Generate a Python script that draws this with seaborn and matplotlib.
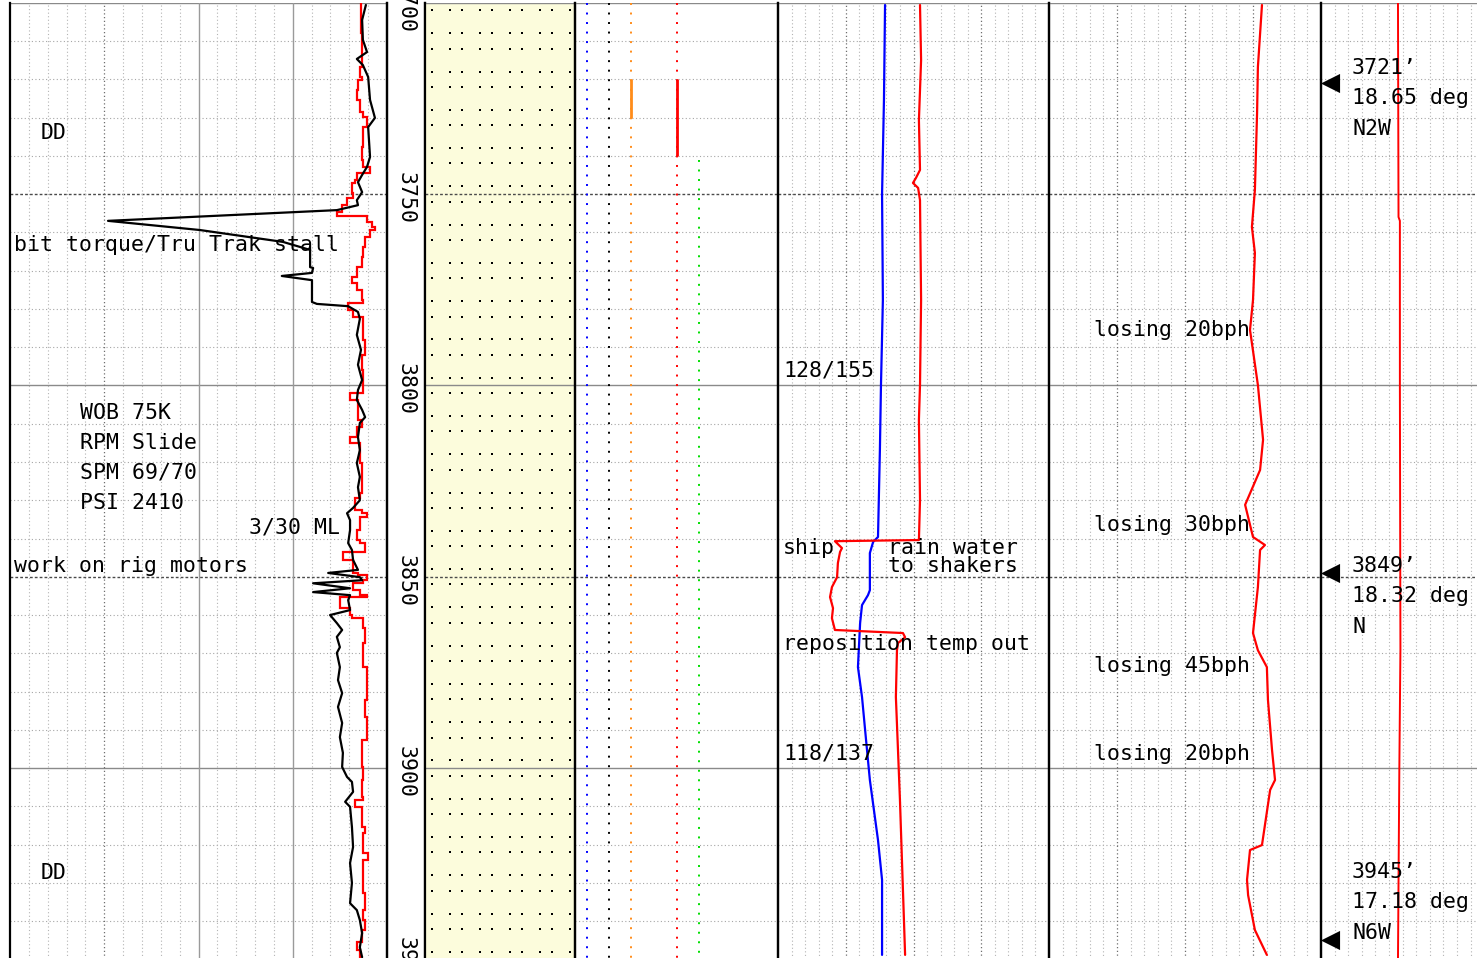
import numpy as np
import matplotlib
matplotlib.use("Agg")
import matplotlib.pyplot as plt
import seaborn as sns

sns.set_style("white")
plt.rcParams["font.family"] = ["DejaVu Sans Mono", "DejaVu Sans"]
plt.rcParams["text.color"] = "black"

# ---------------------------------------------------------------- data
TOP_DEPTH, BASE_DEPTH = 3700, 3950

# track 1: drill-rate curve (black) and step curve (red), scale 0-100
rop_depth = [3700.6, 3704.5, 3709.7, 3712.9, 3714.7, 3716.3, 3719.4, 3725.4, 3730.1, 3732.5,
             3740.3, 3742.9, 3745.0, 3746.9, 3749.5, 3751.6, 3752.9, 3754.2, 3757.0, 3759.4,
             3762.5, 3764.6, 3769.1, 3769.3, 3770.6, 3771.4, 3772.5, 3778.2, 3778.7, 3779.3,
             3780.8, 3782.6, 3786.8, 3790.7, 3794.6, 3798.6, 3801.2, 3803.8, 3806.4, 3808.3,
             3809.8, 3813.5, 3816.9, 3820.3, 3823.9, 3826.6, 3830.0, 3832.0, 3833.4, 3835.2,
             3837.8, 3841.2, 3843.0, 3845.6, 3848.2, 3849.0, 3850.1, 3850.9, 3851.7, 3853.0,
             3854.0, 3854.8, 3856.1, 3858.7, 3860.0, 3862.1, 3863.9, 3865.7, 3868.4, 3869.9,
             3873.6, 3877.0, 3880.4, 3884.0, 3888.2, 3891.9, 3896.0, 3899.7, 3902.3, 3903.6,
             3906.2, 3908.8, 3910.1, 3915.4, 3920.6, 3924.8, 3930.0, 3935.3, 3937.1, 3939.7,
             3943.1, 3946.8, 3949.4]
rop_value = [94.4, 93.4, 93.6, 94.7, 92.0, 93.6, 95.0, 95.5, 96.8, 95.0,
             95.5, 94.7, 93.4, 92.3, 93.4, 92.0, 92.3, 86.7, 26.0, 50.4,
             72.4, 79.6, 79.6, 80.4, 80.1, 72.1, 80.1, 80.1, 81.4, 89.7,
             92.3, 92.8, 92.0, 93.1, 92.3, 93.4, 92.3, 92.0, 93.4, 94.2,
             92.8, 92.3, 92.8, 92.0, 92.8, 92.3, 92.8, 91.0, 89.4, 90.2,
             90.2, 89.7, 90.7, 91.0, 92.3, 84.4, 92.8, 93.4, 80.4, 90.2,
             80.4, 90.2, 89.7, 90.2, 84.9, 86.7, 88.1, 86.7, 87.5, 86.7,
             87.5, 87.0, 88.1, 87.0, 88.1, 87.5, 88.3, 88.1, 89.4, 90.7,
             91.0, 88.9, 90.2, 90.7, 91.0, 90.2, 90.7, 90.2, 92.0, 92.8,
             93.4, 92.8, 93.4]

step_edges = [3700.0, 3707.9, 3716.8, 3719.4, 3720.2, 3722.8, 3725.4, 3728.6, 3729.9, 3732.5,
              3737.7, 3741.1, 3742.9, 3744.5, 3746.3, 3747.1, 3749.7, 3751.0, 3752.9, 3754.7,
              3755.7, 3757.3, 3758.6, 3759.4, 3761.2, 3763.8, 3766.4, 3769.1, 3771.7, 3773.2,
              3775.1, 3777.7, 3778.5, 3780.3, 3782.1, 3788.1, 3792.1, 3796.0, 3802.0, 3803.8,
              3809.0, 3810.9, 3813.5, 3815.0, 3820.3, 3828.1, 3829.4, 3832.6, 3833.3, 3834.4,
              3837.8, 3840.4, 3841.2, 3843.5, 3845.6, 3849.0, 3849.5, 3850.9, 3851.6, 3853.5,
              3854.8, 3855.3, 3858.2, 3860.0, 3860.8, 3863.4, 3867.3, 3873.6, 3882.2, 3886.6,
              3892.7, 3899.7, 3903.1, 3907.6, 3908.3, 3910.2, 3915.4, 3917.0, 3922.2, 3924.0,
              3932.6, 3937.1, 3939.7, 3942.3, 3945.4, 3947.5, 3950.0]
step_value = [93.1, 93.4, 92.8, 93.4, 92.3, 92.0, 92.8, 93.6, 94.7, 93.6,
              93.4, 93.6, 95.5, 92.0, 91.5, 90.7, 91.0, 89.4, 88.1, 86.7,
              94.7, 96.0, 96.8, 95.5, 94.2, 93.6, 93.4, 92.0, 90.7, 92.0,
              93.4, 93.6, 89.7, 91.0, 93.6, 94.2, 93.4, 93.6, 90.2, 92.3,
              93.4, 92.0, 90.2, 92.8, 93.4, 92.8, 91.5, 93.4, 94.7, 92.8,
              92.0, 92.8, 94.2, 88.3, 91.0, 92.3, 94.7, 93.6, 91.0, 92.8,
              94.7, 87.5, 90.2, 90.7, 93.6, 94.2, 93.6, 94.7, 94.2, 94.7,
              93.4, 93.6, 93.4, 93.6, 91.5, 93.4, 94.2, 93.6, 95.0, 93.6,
              94.2, 93.6, 94.2, 93.4, 92.0, 92.8]

# track 4: show columns
show_colors = ["#0000ff", "black", "#ff8c1a", "#ff0000", "#00dd00"]
show_pos = [5.9, 16.7, 27.6, 50.2, 61.1]
show_top = [3700, 3700, 3700, 3700, 3741]
show_solid_color = ["#ff8c1a", "#ff0000"]
show_solid_pos = [27.6, 50.2]
show_solid_top = [3720, 3720]
show_solid_base = [3730, 3740]

# track 5: gas curves, scale 0-100
gas_blue_depth = [3700.6, 3725.4, 3750.0, 3777.7, 3799.9, 3816.9, 3839.6, 3840.9, 3843.8, 3853.5,
                  3854.8, 3857.4, 3862.1, 3873.6, 3881.4, 3892.7, 3903.1, 3918.8, 3929.2, 3948.8]
gas_blue_value = [39.5, 39.1, 38.4, 38.7, 38.0, 37.6, 36.9, 35.1, 33.9, 33.9,
                  33.2, 31.0, 30.3, 29.5, 31.0, 32.5, 33.9, 36.9, 38.4, 38.4]
gas_red_depth = [3700.6, 3715.0, 3730.7, 3743.7, 3745.8, 3747.1, 3748.4, 3751.6, 3777.7, 3799.9,
                 3809.0, 3829.9, 3840.4, 3840.7, 3842.5, 3843.5, 3846.4, 3850.1, 3852.7, 3855.3,
                 3858.2, 3860.8, 3863.9, 3864.7, 3865.8, 3867.3, 3869.2, 3881.4, 3908.3, 3948.8]
gas_red_value = [52.4, 52.8, 52.0, 52.4, 50.9, 49.8, 51.7, 52.4, 52.8, 52.4,
                 52.0, 52.4, 52.0, 21.0, 23.6, 22.9, 22.1, 21.8, 19.9, 19.2,
                 20.3, 19.9, 21.0, 46.1, 46.9, 44.3, 43.9, 43.5, 45.0, 46.9]

# track 6: red curve, scale 0-100
t6_depth = [3700.6, 3716.8, 3728.8, 3748.9, 3758.6, 3765.4, 3777.7, 3785.5, 3799.9, 3814.2,
            3822.1, 3831.2, 3839.6, 3841.7, 3843.0, 3852.7, 3864.7, 3869.2, 3873.6, 3882.2,
            3895.3, 3903.1, 3905.7, 3920.1, 3921.4, 3929.2, 3933.2, 3942.3, 3948.8]
t6_value = [78.3, 76.8, 76.5, 75.7, 74.6, 75.7, 75.0, 73.9, 76.8, 78.7,
            77.6, 72.1, 75.0, 79.4, 77.6, 76.8, 75.0, 76.8, 80.1, 80.5,
            82.0, 83.1, 81.3, 78.3, 73.9, 72.8, 73.2, 75.7, 80.1]

# track 7: red curve and directional surveys
t7_depth = [3700.0, 3756.0, 3757.0, 3800.0, 3869.0, 3900.0, 3950.0]
t7_value = [28.3, 28.5, 29.0, 29.0, 29.2, 28.8, 28.3]
survey_depth = [3721, 3849, 3945]
survey_text_depth = [3717.1, 3847.2, 3927.2]
survey_incl = ["18.65 deg", "18.32 deg", "17.18 deg"]
survey_azim = ["N2W", "N", "N6W"]

# remarks: (track, x, depth, text)
remarks = [
    (1, 8.0, 3734.1, "DD"),
    (1, 1.1, 3763.3, "bit torque/Tru Trak stall"),
    (1, 18.6, 3807.2, "WOB 75K"),
    (1, 18.6, 3815.0, "RPM Slide"),
    (1, 18.6, 3822.8, "SPM 69/70"),
    (1, 18.6, 3830.7, "PSI 2410"),
    (1, 63.4, 3837.2, "3/30 ML"),
    (1, 1.1, 3847.2, "work on rig motors"),
    (1, 8.0, 3927.4, "DD"),
    (5, 1.8, 3796.2, "128/155"),
    (5, 1.8, 3842.5, "ship"),
    (5, 40.6, 3842.5, "rain water"),
    (5, 40.6, 3847.2, "to shakers"),
    (5, 1.8, 3867.6, "reposition temp out"),
    (5, 1.8, 3896.1, "118/137"),
    (6, 16.5, 3785.5, "losing 20bph"),
    (6, 16.5, 3836.5, "losing 30bph"),
    (6, 16.5, 3873.3, "losing 45bph"),
    (6, 16.5, 3896.3, "losing 20bph"),
]

# ---------------------------------------------------------------- layout
W, H = 1477, 958
Y_TOP, Y_BASE = 2.7, 959.5
FS = 15.5
fig = plt.figure(figsize=(W / 100, H / 100), dpi=100)


def make_track(x0, x1, left=True, right=True):
    ax = fig.add_axes([x0 / W, (H - Y_BASE) / H, (x1 - x0) / W, (Y_BASE - Y_TOP) / H])
    ax.patch.set_alpha(0)
    for name, sp in ax.spines.items():
        sp.set_visible((name == "left" and left) or (name == "right" and right))
        sp.set_color("black")
        sp.set_linewidth(1.6)
        sp.set_zorder(6)
    return ax


def finish(ax, xmax):
    ax.set_xlim(0, xmax)
    ax.set_ylim(BASE_DEPTH, TOP_DEPTH)
    ax.set_xticks([])
    ax.set_yticks([])
    ax.set_xlabel("")
    ax.set_ylabel("")


def depth_grid(ax, minor=True):
    for d in range(TOP_DEPTH, BASE_DEPTH + 1, 10):
        if d % 100 == 0:
            ax.axhline(d, color="#8a8a8a", lw=1.0, zorder=1)
        elif d % 50 == 0:
            ax.axhline(d, color="#4a4a4a", lw=1.0, ls=(0, (2, 1.5)), zorder=1)
        elif minor:
            ax.axhline(d, color="#a6a6a6", lw=0.8, ls=(0, (1, 2.2)), zorder=1)


def value_grid(ax, xmax, dark=(), solid=()):
    for v in np.arange(5, xmax, 5):
        if v in solid:
            ax.axvline(v, color="#9a9a9a", lw=1.0, zorder=1)
        elif v in dark:
            ax.axvline(v, color="#6e6e6e", lw=0.9, ls=(0, (1, 2)), zorder=1)
        else:
            ax.axvline(v, color="#b4b4b4", lw=0.8, ls=(0, (1, 2.2)), zorder=1)


# track 1
ax1 = make_track(10, 387)
depth_grid(ax1)
value_grid(ax1, 100, dark=(25,), solid=(50, 75))
sns.lineplot(x=rop_value, y=rop_depth, sort=False, estimator=None, color="black",
             lw=1.6, ax=ax1, zorder=4)
ax1.stairs(step_value, step_edges, orientation="horizontal", baseline=None,
           color="#ff0000", lw=1.6, zorder=3)
finish(ax1, 100)

# depth track
axd = make_track(387, 425)
for d in range(TOP_DEPTH, BASE_DEPTH + 1, 50):
    axd.text(0.48, d + 1.0, str(d), rotation=270, ha="center", va="center",
             fontsize=FS, color="black")
finish(axd, 1)

# lithology track (sandstone)
axl = make_track(425, 575)
axl.fill_betweenx([TOP_DEPTH, BASE_DEPTH], 0, 1, color="#fcfcdc", lw=0, zorder=0)
dot_x = np.concatenate([np.arange(7, 150, 30), np.arange(25, 150, 30)]) / 150
dot_y = np.concatenate([np.arange(TOP_DEPTH + 2, BASE_DEPTH, 10),
                        np.arange(TOP_DEPTH + 8, BASE_DEPTH, 10)])
gx, gy = np.meshgrid(dot_x, dot_y)
axl.scatter(gx.ravel(), gy.ravel(), s=3.5, marker="s", color="black", lw=0, zorder=2)
depth_grid(axl, minor=False)
finish(axl, 1)

# show track
ax4 = make_track(575, 778)
depth_grid(ax4)
for c, x, t in zip(show_colors, show_pos, show_top):
    ax4.vlines(x, t, BASE_DEPTH, colors=c, lw=1.4, linestyles=(0, (1, 3.9)), zorder=3)
for c, x, t, b in zip(show_solid_color, show_solid_pos, show_solid_top, show_solid_base):
    ax4.vlines(x, t, b, colors=c, lw=2.0, zorder=4)
finish(ax4, 100)

# gas track
ax5 = make_track(778, 1049)
depth_grid(ax5)
value_grid(ax5, 100, dark=(25, 50, 75))
sns.lineplot(x=gas_blue_value, y=gas_blue_depth, sort=False, estimator=None,
             color="#0000ff", lw=1.6, ax=ax5, zorder=4)
sns.lineplot(x=gas_red_value, y=gas_red_depth, sort=False, estimator=None,
             color="#ff0000", lw=1.6, ax=ax5, zorder=4)
finish(ax5, 100)

# track 6
ax6 = make_track(1049, 1321)
depth_grid(ax6)
value_grid(ax6, 100, dark=(25, 50, 75))
sns.lineplot(x=t6_value, y=t6_depth, sort=False, estimator=None,
             color="#ff0000", lw=1.6, ax=ax6, zorder=4)
finish(ax6, 100)

# track 7 (same scale as tracks 5 and 6, running past the page edge)
x7 = 100 * 156 / 272
ax7 = make_track(1321, 1477, right=False)
depth_grid(ax7)
value_grid(ax7, x7)
sns.lineplot(x=t7_value, y=t7_depth, sort=False, estimator=None,
             color="#ff0000", lw=1.4, ax=ax7, zorder=4)
sns.scatterplot(x=[3.4] * len(survey_depth), y=survey_depth, marker="<", s=190,
                color="black", linewidth=0, ax=ax7, zorder=5)
for sd, td, inc, az in zip(survey_depth, survey_text_depth, survey_incl, survey_azim):
    for k, line in enumerate([f"{sd}\u2019", inc, az]):
        ax7.text(11.4, td + k * 7.9, line, ha="left", va="center", fontsize=FS,
                 color="black", zorder=6)
finish(ax7, x7)

axes = {1: ax1, 5: ax5, 6: ax6, 7: ax7}
for trk, x, d, txt in remarks:
    axes[trk].text(x, d, txt, ha="left", va="center", fontsize=FS, color="black", zorder=6)

fig.savefig("out.png", dpi=100)
